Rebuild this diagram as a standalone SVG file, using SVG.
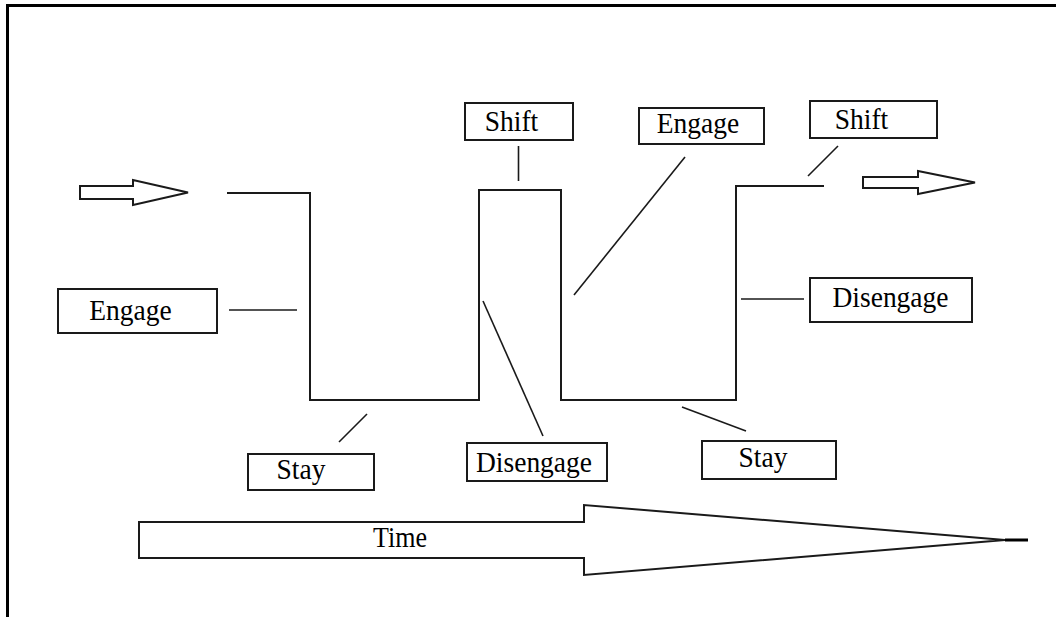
<svg xmlns="http://www.w3.org/2000/svg" width="1056" height="617" viewBox="0 0 1056 617">
<style>
.box{fill:#fff;stroke:#1a1a1a;stroke-width:2}
.lbl{font-family:'Liberation Serif','DejaVu Serif',serif;font-size:27.5px;fill:#000;text-anchor:middle}
.ln{fill:none;stroke:#1a1a1a;stroke-width:1.6}
.step{fill:none;stroke:#1a1a1a;stroke-width:2}
.arr{fill:#fff;stroke:#1a1a1a;stroke-width:2;stroke-linejoin:miter}
</style>
<rect width="1056" height="617" fill="#fff"/>
<path d="M7.5,617 V5.5 H1056" fill="none" stroke="#000" stroke-width="3"/>
<g id="input-arrow"><polygon class="arr" points="80,186 133,186 133,180 188,192.5 133,205 133,199 80,199"/></g>
<g id="output-arrow"><polygon class="arr" points="863,177 918,177 918,171 975,182.5 918,194 918,188 863,188"/></g>
<g id="signal"><path class="step" d="M227,193 H310 V400 H479 V190 H561 V401 M561,400 H736 V186 H824"/></g>
<g id="connectors">
<line class="ln" x1="229" y1="310" x2="297" y2="310"/>
<line class="ln" x1="518.5" y1="146" x2="518.5" y2="181"/>
<line class="ln" x1="685" y1="157" x2="574" y2="295"/>
<line class="ln" x1="838" y1="146" x2="808" y2="176"/>
<line class="ln" x1="741" y1="299" x2="804" y2="299"/>
<line class="ln" x1="367" y1="414" x2="339" y2="442"/>
<line class="ln" x1="483" y1="301" x2="543" y2="436"/>
<line class="ln" x1="682" y1="407" x2="746" y2="431"/>
</g>
<g id="engage-left"><rect class="box" x="58" y="289" width="159" height="44"/><text class="lbl" transform="translate(130.5,320) scale(1,1.1)">Engage</text></g>
<g id="shift-1"><rect class="box" x="465" y="103" width="108" height="37"/><text class="lbl" transform="translate(511.5,131) scale(1,1.1)">Shift</text></g>
<g id="engage-top"><rect class="box" x="639" y="108" width="125" height="36"/><text class="lbl" transform="translate(698,133) scale(1,1.1)">Engage</text></g>
<g id="shift-2"><rect class="box" x="810" y="101" width="127" height="37"/><text class="lbl" transform="translate(861.5,128.5) scale(1,1.1)">Shift</text></g>
<g id="disengage-right"><rect class="box" x="810" y="278" width="162" height="44"/><text class="lbl" transform="translate(890.5,307) scale(1,1.1)">Disengage</text></g>
<g id="stay-left"><rect class="box" x="248" y="454" width="126" height="36"/><text class="lbl" transform="translate(301,479) scale(1,1.1)">Stay</text></g>
<g id="disengage-mid"><rect class="box" x="467" y="443" width="140" height="38"/><text class="lbl" transform="translate(534,472) scale(1,1.1)">Disengage</text></g>
<g id="stay-right"><rect class="box" x="702" y="441" width="134" height="38"/><text class="lbl" transform="translate(763,467) scale(1,1.1)">Stay</text></g>
<g id="time-arrow">
<polygon class="arr" points="139,522 584,522 584,505 1005,540 584,575 584,558 139,558"/>
<line x1="1005" y1="540" x2="1028" y2="540" stroke="#000" stroke-width="3"/>
<text class="lbl" transform="translate(400,547) scale(1,1.1)" style="font-size:26px">Time</text>
</g>
</svg>
